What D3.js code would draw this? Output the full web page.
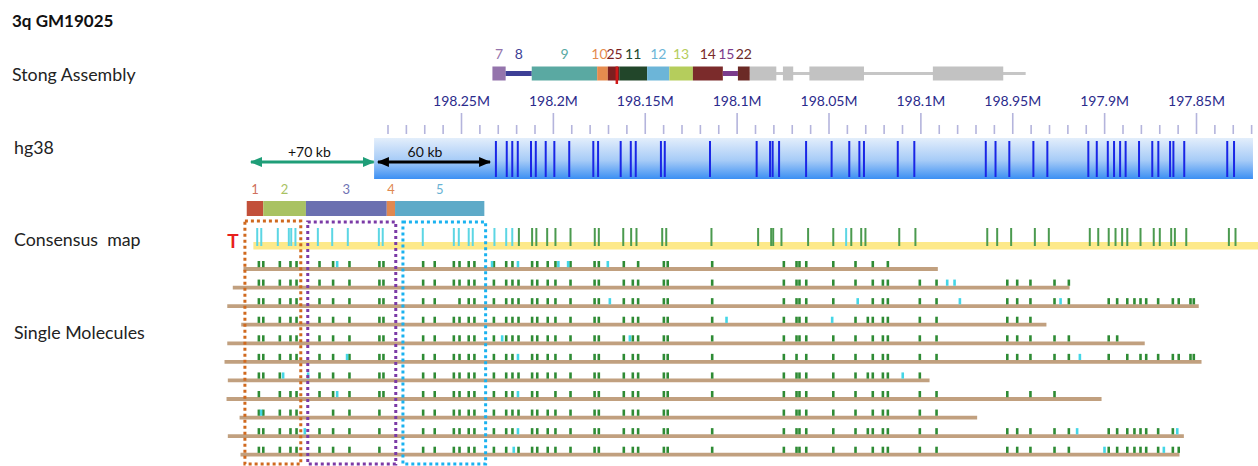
<!DOCTYPE html>
<html>
<head>
<meta charset="utf-8">
<script src="https://cdn.jsdelivr.net/npm/d3@7"></script>
<style>
  html, body { margin: 0; padding: 0; background: #fff; }
  svg text { font-family: Lato, "Open Sans", sans-serif; }
</style>
</head>
<body>
<div id="chart"></div>
<script>
// all positions are kb along the map (0 = just left of the telomere)

// Stong assembly
const stongNames  = ['7', '8', '9', '10', '25', '11', '12', '13', '14', '15', '22'];
const stongStarts = [137.1, 144.3, 158.5, 194.1, 199.9, 206.1, 221.3, 233.4, 246.2, 262.5, 270.7];
const stongEnds   = [144.3, 158.5, 194.1, 199.9, 206.1, 221.3, 233.4, 246.2, 262.5, 270.7, 277.1];
const stongLinks  = ['8', '15'];
const stongGrey   = [[277.1, 291.6], [295.2, 300.8], [309.6, 339.3], [376.8, 415.1]];
const stongTail   = [277.1, 427.3];
const stongMark   = 204.8;

// hg38
const hg38Labels = ['198.25M', '198.2M', '198.15M', '198.1M', '198.05M', '198.1M', '198.95M', '197.9M', '197.85M'];
const hg38Extent = [72.7, 551.0];
const hg38Sites = [139.0, 144.9, 147.9, 150.9, 158.1, 160.7, 166.1, 170.8, 178.9, 192.0, 194.6,
  206.9, 212.4, 215.1, 228.8, 230.9, 255.5, 280.9, 288.2, 289.6, 293.1, 307.8, 321.7, 331.3,
  336.8, 339.3, 357.7, 366.7, 405.6, 410.9, 418.4, 431.5, 439.1, 461.4, 466.0, 472.0, 475.4,
  478.7, 481.7, 489.0, 496.2, 499.5, 505.9, 507.7, 513.6, 537.0, 540.7];

// size arrows
const arrowLabels = ['+70 kb', '60 kb'];
const arrowFrom   = [5.7, 74.8];
const arrowTo     = [72.5, 135.8];

// regions 1-5
const regionNames  = ['1', '2', '3', '4', '5'];
const regionStarts = [3.4, 12.4, 35.6, 79.6, 84.1];
const regionEnds   = [12.4, 35.6, 79.6, 84.1, 132.7];
const boxFrom = [2.4, 36.6, 88.4];
const boxTo   = [32.8, 84.5, 133.4];

// consensus map
const consensusExtent = [7.0, 556];
const consensusCyan = [9.1, 11.3, 20.3, 26.3, 27.6, 29.9, 42.1, 49.9, 58.4, 75.3, 77.4, 99.2,
  116.1, 118.8, 124.2, 126.4, 138.2, 144.6, 147.9, 329.6];
const consensusGreen = [151.5, 158.7, 161.0, 166.9, 171.4, 179.6, 192.8, 195.0, 208.3, 212.6,
  215.5, 229.5, 231.7, 256.3, 281.7, 288.8, 289.9, 294.4, 308.9, 322.6, 332.4, 337.8, 340.1,
  358.5, 367.3, 406.4, 411.8, 419.4, 432.3, 439.9, 462.2, 466.8, 472.5, 476.2, 479.8, 482.6,
  489.8, 497.0, 500.3, 506.5, 508.5, 514.7, 537.9, 541.5];

// single molecules: shared labels, then per molecule extent / missing labels / extras
const molLabels = [10.0, 12.4, 21.4, 27.2, 30.5, 43.0, 50.4, 59.3, 75.6, 77.8, 99.4, 105.7,
  116.1, 119.2, 124.2, 127.3, 137.9, 144.6, 148.0, 151.3, 158.7, 161.5, 167.2, 171.4, 179.6,
  192.7, 195.0, 208.6, 213.5, 216.4, 230.4, 232.5, 256.7, 295.7, 302.6, 304.2, 307.9, 322.6,
  334.7, 344.1, 349.6, 352.3, 369.7, 378.8, 417.3, 422.7, 429.9, 443.0, 450.8, 472.5, 477.1,
  482.6, 486.5, 489.8, 492.9, 499.4, 507.4, 510.6, 517.0, 518.8];
const molStart = [1.6, -4.2, -7.2, 0.4, -7.2, -8.7, -6.9, -7.6, -0.5, -6.9, 0];
const molEnd   = [379.5, 451.2, 521.5, 438.6, 492.1, 523.0, 375.0, 468.6, 400.9, 513.4, 511.0];
const molMissing = [[19, 28, 40, 42, 43], [], [12, 38], [37], [51, 52, 53], [19, 35, 50, 52],
  [3, 4], [1, 19, 22, 45, 48], [5, 9, 32], [9, 19, 57], [9, 18]];
const molCyan = [[52.6, 136.9, 151.0, 173.0, 178.3, 199.9], [384.6, 388.6],
  [201.0, 335.9, 391.5, 446.3], [264.5, 322.0], [142.4, 211.9], [58.0, 151.0, 456.8],
  [23.2, 36.8, 360.4], [52.6, 151.0], [11.2], [35.0, 151.0, 455.3, 509.8], [148.7, 470.2, 502.5]];
const molExtra = [[], [], [], [341.4], [], [], [341.4], [], [], [341.4], []];

const trackNames = ['Stong Assembly', 'hg38', 'Consensus  map', 'Single Molecules'];

// ---- styles ----
const stongColor = {
  '7': '#9474ac', '8': '#3d3f96', '9': '#5aa9a2', '10': '#e58b4e', '25': '#7d1f1f',
  '11': '#22462a', '12': '#6cb5d8', '13': '#b5cd5c', '14': '#7b2b2b', '15': '#7b3b8c', '22': '#6b2a26'
};
const regionColor = ['#c2503a', '#a9c262', '#6b70b0', '#e08850', '#5eaac8'];
const regionText  = ['#d0705c', '#a9c262', '#7074b4', '#e08850', '#68b2d4'];
const boxColor = ['#d0691e', '#7b3aa6', '#1ab2f0'];
const GREEN = '#2e8b34', CYAN = '#44d6e6';

const W = 1258, H = 466;
const x = d3.scaleLinear().domain([0, 100]).range([240.5, 240.5 + 183.75]);
const yRow = d3.scalePoint().domain(d3.range(molStart.length)).range([269, 454.7]);

const svg = d3.select('#chart').append('svg')
  .attr('width', W).attr('height', H)
  .style('display', 'block');

const defs = svg.append('defs');
const grad = defs.append('linearGradient').attr('id', 'hg38Fill')
  .attr('x1', 0).attr('y1', 0).attr('x2', 0).attr('y2', 1);
grad.append('stop').attr('offset', '0%').attr('stop-color', '#e3eefb');
grad.append('stop').attr('offset', '55%').attr('stop-color', '#a6cbf7');
grad.append('stop').attr('offset', '100%').attr('stop-color', '#3b8ff3');

['#1f9e78', '#000000'].forEach((c, i) => {
  defs.append('marker')
    .attr('id', 'arrow' + i)
    .attr('viewBox', '0 0 12 12')
    .attr('refX', 11).attr('refY', 6)
    .attr('markerWidth', 12).attr('markerHeight', 12)
    .attr('markerUnits', 'userSpaceOnUse')
    .attr('orient', 'auto-start-reverse')
    .append('path')
      .attr('d', 'M0,1 L12,6 L0,11 Z')
      .attr('fill', c);
});

// title + track names
svg.append('text')
  .attr('x', 12).attr('y', 27)
  .style('font-size', '17px').style('font-weight', 'bold').attr('fill', '#111')
  .text('3q GM19025');

const trackY = [81, 154, 246, 339];
svg.selectAll('text.track')
  .data(trackNames)
  .enter()
    .append('text')
      .attr('class', 'track')
      .attr('x', (d, i) => i === 0 ? 12 : 14)
      .attr('y', (d, i) => trackY[i])
      .style('font-size', '17.8px')
      .style('white-space', 'pre')
      .attr('fill', '#222')
      .text(d => d);

// ---- Stong assembly ----
const stong = svg.append('g').attr('class', 'stong');
stong.append('line')
  .attr('x1', x(stongTail[0])).attr('x2', x(stongTail[1]))
  .attr('y1', 73.5).attr('y2', 73.5)
  .attr('stroke', '#c6c6c6').attr('stroke-width', 3);
stong.selectAll('rect.grey')
  .data(stongGrey)
  .enter()
    .append('rect')
      .attr('class', 'grey')
      .attr('x', d => x(d[0]))
      .attr('width', d => x(d[1]) - x(d[0]))
      .attr('y', 66.5).attr('height', 14)
      .attr('fill', '#c2c2c2');
stong.selectAll('rect.seg')
  .data(stongNames)
  .enter()
    .append('rect')
      .attr('class', 'seg')
      .attr('x', (d, i) => x(stongStarts[i]))
      .attr('width', (d, i) => x(stongEnds[i]) - x(stongStarts[i]))
      .attr('y', d => stongLinks.includes(d) ? 71 : 66.5)
      .attr('height', d => stongLinks.includes(d) ? 5 : 14)
      .attr('fill', d => stongColor[d]);
stong.append('line')
  .attr('x1', x(stongMark)).attr('x2', x(stongMark))
  .attr('y1', 66.5).attr('y2', 84)
  .attr('stroke', '#d01818').attr('stroke-width', 2.5);
const nudge = { '10': -3, '25': 1, '15': -4 };
stong.selectAll('text')
  .data(stongNames)
  .enter()
    .append('text')
      .attr('x', (d, i) => x((stongStarts[i] + stongEnds[i]) / 2) + (nudge[d] || 0))
      .attr('y', 59)
      .attr('text-anchor', 'middle')
      .style('font-size', '14px')
      .attr('fill', d => stongColor[d])
      .text(d => d);

// ---- hg38 ----
const hg = svg.append('g').attr('class', 'hg38');
const majorTicks = hg38Labels.map((d, i) => 120 + i * 50);
const minorTicks = d3.range(80, 551, 10).filter(v => !majorTicks.includes(v));

const minorAxis = d3.axisTop(x).tickValues(minorTicks).tickSize(9).tickFormat('');
const majorAxis = d3.axisTop(x).tickValues(majorTicks).tickSize(21).tickPadding(7)
  .tickFormat((d, i) => hg38Labels[i]);
[minorAxis, majorAxis].forEach(ax => {
  const g = hg.append('g').attr('transform', 'translate(0,134)').call(ax);
  g.select('.domain').remove();
  g.selectAll('.tick line').attr('stroke', '#b4b4dc').attr('stroke-width', 1.6);
  g.selectAll('.tick text')
    .style('font-family', 'Lato, sans-serif')
    .style('font-size', '14px')
    .attr('fill', '#2b2b8c');
});

hg.append('rect')
  .attr('x', x(hg38Extent[0]))
  .attr('width', x(hg38Extent[1]) - x(hg38Extent[0]))
  .attr('y', 138).attr('height', 41)
  .attr('fill', 'url(#hg38Fill)');
hg.selectAll('line.site')
  .data(hg38Sites)
  .enter()
    .append('line')
      .attr('class', 'site')
      .attr('x1', d => x(d)).attr('x2', d => x(d))
      .attr('y1', 141).attr('y2', 177)
      .attr('stroke', '#1a26e6').attr('stroke-width', 2);

// size arrows
const arrows = svg.append('g').attr('class', 'arrows');
arrowLabels.forEach((label, i) => {
  const c = i === 0 ? '#1f9e78' : '#000';
  arrows.append('line')
    .attr('x1', x(arrowFrom[i])).attr('x2', x(arrowTo[i]))
    .attr('y1', 162).attr('y2', 162)
    .attr('stroke', c).attr('stroke-width', 3)
    .attr('marker-start', `url(#arrow${i})`)
    .attr('marker-end', `url(#arrow${i})`);
  arrows.append('text')
    .attr('x', x((arrowFrom[i] + arrowTo[i]) / 2) + (i === 0 ? -3 : -9))
    .attr('y', 157)
    .attr('text-anchor', 'middle')
    .style('font-size', '14px')
    .attr('fill', '#111')
    .text(label);
});

// ---- regions 1-5 ----
const reg = svg.append('g').attr('class', 'regions');
reg.selectAll('rect')
  .data(regionNames)
  .enter()
    .append('rect')
      .attr('x', (d, i) => x(regionStarts[i]))
      .attr('width', (d, i) => x(regionEnds[i]) - x(regionStarts[i]))
      .attr('y', 201).attr('height', 15)
      .attr('fill', (d, i) => regionColor[i]);
reg.selectAll('text')
  .data(regionNames)
  .enter()
    .append('text')
      .attr('x', (d, i) => x((regionStarts[i] + regionEnds[i]) / 2))
      .attr('y', 194)
      .attr('text-anchor', 'middle')
      .style('font-size', '13px')
      .attr('fill', (d, i) => regionText[i])
      .text(d => d);

// ---- consensus map ----
const cons = svg.append('g').attr('class', 'consensus');
cons.append('rect')
  .attr('x', x(consensusExtent[0]))
  .attr('width', x(consensusExtent[1]) - x(consensusExtent[0]))
  .attr('y', 242).attr('height', 7.5)
  .attr('fill', '#fde98a');
function drawSites(g, data, color, y1, y2, w) {
  g.selectAll(null)
    .data(data)
    .enter()
      .append('line')
        .attr('x1', d => x(d)).attr('x2', d => x(d))
        .attr('y1', y1).attr('y2', y2)
        .attr('stroke', color).attr('stroke-width', w);
}
drawSites(cons, consensusGreen, '#4b9a4f', 228, 246, 2);
drawSites(cons, consensusCyan, '#5cd6e4', 228, 246, 2);

svg.append('text')
  .attr('x', 233).attr('y', 248)
  .attr('text-anchor', 'middle')
  .style('font-size', '19px').style('font-weight', 'bold')
  .attr('fill', '#e8201c')
  .text('T');

// ---- single molecules ----
const mols = svg.append('g').attr('class', 'molecules');
molStart.forEach((s, i) => {
  const y = yRow(i);
  const g = mols.append('g');
  g.append('line')
    .attr('x1', x(s)).attr('x2', x(molEnd[i]))
    .attr('y1', y).attr('y2', y)
    .attr('stroke', '#c1a07f').attr('stroke-width', 3.8);
  const green = molLabels
    .filter((k, j) => k >= s && k <= molEnd[i] && !molMissing[i].includes(j))
    .concat(molExtra[i]);
  drawSites(g, green, GREEN, y - 8, y - 1.8, 2.6);
  drawSites(g, molCyan[i], CYAN, y - 8, y - 1.8, 2.6);
});

// ---- dotted region boxes ----
svg.selectAll('rect.box')
  .data(boxFrom)
  .enter()
    .append('rect')
      .attr('class', 'box')
      .attr('x', (d, i) => x(d))
      .attr('width', (d, i) => x(boxTo[i]) - x(d))
      .attr('y', (d, i) => i === 0 ? 221 : 222)
      .attr('height', (d, i) => i === 0 ? 243 : 242)
      .attr('fill', 'none')
      .attr('stroke', (d, i) => boxColor[i])
      .attr('stroke-width', 3)
      .attr('stroke-dasharray', '3,3');
</script>
</body>
</html>
